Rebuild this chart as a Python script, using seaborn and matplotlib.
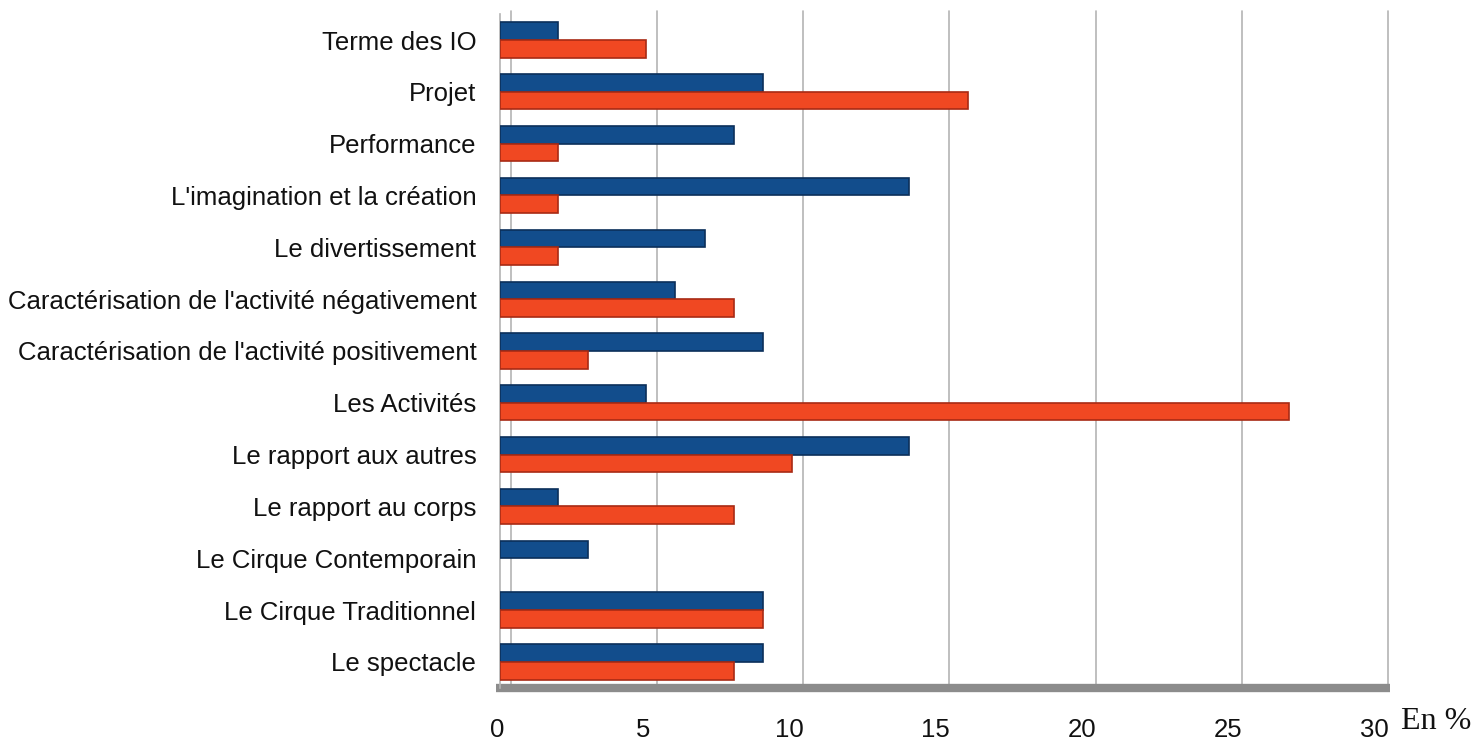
import pandas as pd
import matplotlib
matplotlib.use("Agg")
import matplotlib.pyplot as plt
import matplotlib.transforms as mtransforms
import seaborn as sns

# données (en %)
categories = [
    "Terme des IO",
    "Projet",
    "Performance",
    "L'imagination et la création",
    "Le divertissement",
    "Caractérisation de l'activité négativement",
    "Caractérisation de l'activité positivement",
    "Les Activités",
    "Le rapport aux autres",
    "Le rapport au corps",
    "Le Cirque Contemporain",
    "Le Cirque Traditionnel",
    "Le spectacle",
]
serie_bleue = [2, 9, 8, 14, 7, 6, 9, 5, 14, 2, 3, 9, 9]
serie_rouge = [5, 16, 2, 2, 2, 8, 3, 27, 10, 8, 0, 9, 8]
series = ["Série 1", "Série 2"]
x_ticks = [0, 5, 10, 15, 20, 25, 30]

df = pd.DataFrame({
    "categorie": categories * 2,
    "valeur": serie_bleue + serie_rouge,
    "serie": [series[0]] * len(categories) + [series[1]] * len(categories),
})

sns.set_theme(style="white")
plt.rcParams['font.family'] = ['Liberation Sans', 'DejaVu Sans']

fig = plt.figure(figsize=(14.79, 7.42), dpi=100)
ax = fig.add_axes([0.338, 0.073, 0.593, 0.908])

couleurs = {series[0]: "#124d8c", series[1]: "#f04822"}
sns.barplot(data=df, y="categorie", x="valeur", hue="serie", orient="h",
            palette=couleurs, width=0.68, saturation=1, legend=False, ax=ax)

# bords plus sombres pour l'effet relief
for patch in ax.patches:
    bord = "#0b2f5a" if patch.get_facecolor()[2] > 0.4 else "#a82a14"
    patch.set_edgecolor(bord)
    patch.set_linewidth(1.2 if patch.get_width() > 0 else 0)
    patch.set_zorder(3)

ax.set_xlim(0, 30)
ax.set_xticks(x_ticks)
ax.set_xticklabels([str(t) for t in x_ticks])
ax.set_xlabel("")
ax.set_ylabel("")
ax.grid(False)

# grille sur la paroi du fond (décalée, effet 3D)
fond = mtransforms.offset_copy(ax.get_xaxis_transform(), fig=fig, x=11, y=0, units="dots")
for t in x_ticks:
    ax.plot([t, t], [0.0, 1.005], transform=fond, color="#b4b4b4", lw=1.2,
            clip_on=False, zorder=1, scalex=False, scaley=False)
ax.set_ylim(len(categories) - 0.5, -0.5)

# sol gris
ax.plot([-0.004, 1.015], [0, 0], transform=ax.transAxes, color="#8c8c8c", lw=6,
        solid_capstyle="butt", clip_on=False, zorder=2, scalex=False, scaley=False)

for s in ["top", "right", "bottom"]:
    ax.spines[s].set_visible(False)
ax.spines["left"].set_color("#b4b4b4")
ax.spines["left"].set_linewidth(1.2)

ax.tick_params(axis="y", length=0, pad=17, labelsize=18.5, labelcolor="#111111")
ax.tick_params(axis="x", length=0, pad=22, labelsize=18.5, labelcolor="#111111")

# étiquettes de l'axe x un peu décalées vers la gauche
decal = mtransforms.ScaledTranslation(-3 / 100, 0, fig.dpi_scale_trans)
for lab in ax.get_xticklabels():
    lab.set_transform(lab.get_transform() + decal)

fig.text(0.947, 0.018, "En %", fontsize=23, family=["Liberation Serif", "DejaVu Serif"],
         color="#111111", ha="left", va="baseline")

fig.savefig("out.png", dpi=100, facecolor="white")
